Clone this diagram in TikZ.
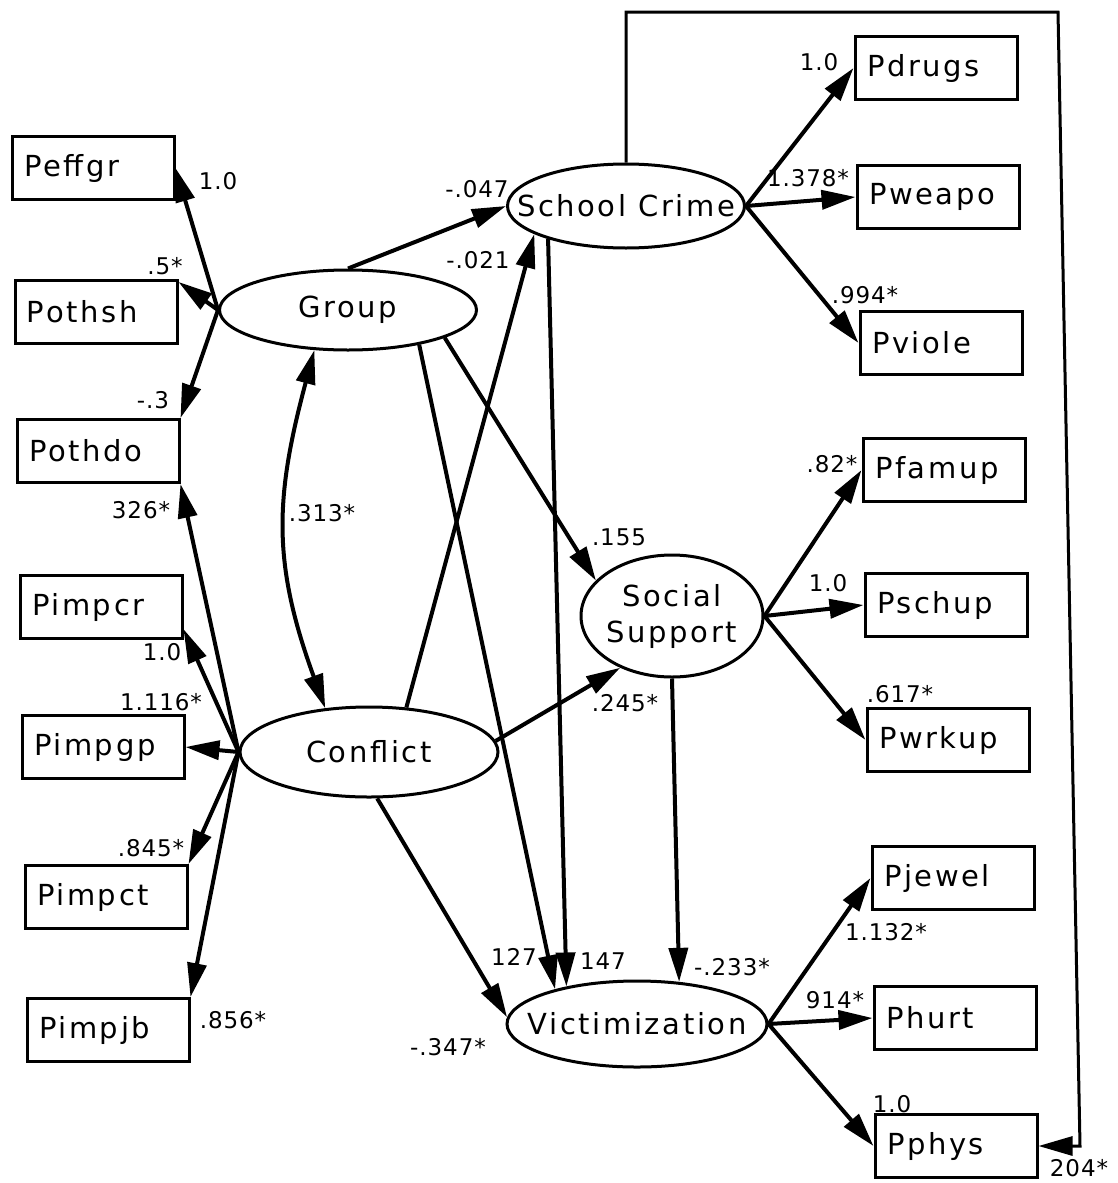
\documentclass[tikz,border=0pt]{standalone}
\usepackage{fontspec}
\setmainfont[LetterSpace=9]{DejaVu Sans}
\usetikzlibrary{arrows.meta,shapes.geometric}
\begin{document}
\begin{tikzpicture}[x=1pt,y=1pt,
    obs/.style={draw, line width=3pt, minimum height=63pt, text width=138pt, inner xsep=12pt, align=left, font=\fontsize{29}{34}\selectfont},
    lat/.style={draw, ellipse, line width=3pt, inner xsep=-70pt, inner ysep=0pt, align=center, font=\fontsize{29}{36}\selectfont},
    arr/.style={line width=4pt, -{Triangle[length=34pt,width=19pt]}},
    lbl/.style={inner sep=0pt, font=\fontsize{23}{26}\selectfont\addfontfeature{LetterSpace=4}}]
    \useasboundingbox (0,0) rectangle (1117,-1183);
    \node[obs] (peffgr) at (93,-168) {Peffgr};
    \node[obs] (pothsh) at (96,-312) {Pothsh};
    \node[obs] (pothdo) at (98,-451) {Pothdo};
    \node[obs] (pimpcr) at (101,-607) {Pimpcr};
    \node[obs] (pimpgp) at (103,-747) {Pimpgp};
    \node[obs] (pimpct) at (106,-897) {Pimpct};
    \node[obs] (pimpjb) at (108,-1030) {Pimpjb};
    \node[obs] (pdrugs) at (936,-68) {Pdrugs};
    \node[obs] (pweapo) at (938,-197) {Pweapo};
    \node[obs] (pviole) at (941,-343) {Pviole};
    \node[obs] (pfamup) at (944,-470) {Pfamup};
    \node[obs] (pschup) at (946,-605) {Pschup};
    \node[obs] (pwrkup) at (948,-740) {Pwrkup};
    \node[obs] (pjewel) at (953,-878) {Pjewel};
    \node[obs] (phurt) at (955,-1018) {Phurt};
    \node[obs] (pphys) at (956,-1146) {Pphys};
    \node[lat, minimum width=257pt, minimum height=80pt] (grp) at (348,-310) {Group};
    \node[lat, minimum width=258pt, minimum height=90pt] (conf) at (369,-752) {Conflict};
    \node[lat, minimum width=237pt, minimum height=84pt] (sch) at (626,-206) {School Crime};
    \node[lat, minimum width=182pt, minimum height=122pt] (ss) at (672,-616) {Social\\Support};
    \node[lat, minimum width=260pt, minimum height=86pt] (vic) at (637,-1024) {Victimization};
    \draw[arr] (grp.west) -- (peffgr.east);
    \draw[arr] (grp.west) -- (pothsh.20);
    \draw[arr] (grp.west) -- (pothdo.north east);
    \draw[arr] (conf.west) -- (pothdo.south east);
    \draw[arr] (conf.west) -- (pimpcr.-15);
    \draw[arr] (conf.west) -- (pimpgp.east);
    \draw[arr] (conf.west) -- (pimpct.north east);
    \draw[arr] (conf.west) -- (pimpjb.north east);
    \draw[arr] (sch.east) -- (pdrugs.west);
    \draw[arr] (sch.east) -- (pweapo.west);
    \draw[arr] (sch.east) -- (pviole.west);
    \draw[arr] (ss.east) -- (pfamup.west);
    \draw[arr] (ss.east) -- (pschup.west);
    \draw[arr] (ss.east) -- (pwrkup.west);
    \draw[arr] (vic.east) -- (pjewel.west);
    \draw[arr] (vic.east) -- (phurt.west);
    \draw[arr] (vic.east) -- (pphys.west);
    \draw[arr] (grp.north) -- (sch.west);
    \draw[arr] (conf.50) -- (sch.197);
    \draw[arr] (grp.-16) -- (ss.155);
    \draw[arr] (grp.-26) -- (vic.157);
    \draw[arr] (sch.203) -- (vic.152);
    \draw[arr] (ss.south) -- (vic.45);
    \draw[arr] (conf.5) -- (ss.225);
    \draw[arr] (conf.-80) -- (vic.177);
    \draw[line width=4pt, {Triangle[length=34pt,width=19pt]}-{Triangle[length=34pt,width=19pt]}] (grp.-130) to[out=-105, in=110, looseness=1.1] (conf.135);
    \coordinate (fbtr) at (1058,-12);
    \coordinate (fbbr) at (1080,-1146);
    \draw[line width=3pt, -{Triangle[length=34pt,width=19pt]}] (sch.north) |- (fbtr) -- (fbbr) -- (pphys.east);
    \node[lbl] (lpeffgr) at (218,-181) {1.0};
    \node[lbl] (lpothsh) at (165,-266) {.5*};
    \node[lbl] (lpothdo) at (153,-400) {-.3};
    \node[lbl] (lpothdob) at (141,-510) {326*};
    \node[lbl] (lpimpcr) at (162,-652) {1.0};
    \node[lbl] (lpimpgp) at (161,-702) {1.116*};
    \node[lbl] (lpimpct) at (151,-848) {.845*};
    \node[lbl] (lpimpjb) at (233,-1020) {.856*};
    \node[lbl] (lgrpsch) at (477,-189) {-.047};
    \node[lbl] (lconfsch) at (478,-260) {-.021};
    \node[lbl] (lgrpss) at (619,-537) {.155};
    \node[lbl] (lconfss) at (625,-703) {.245*};
    \node[lbl] (lcov) at (322,-513) {.313*};
    \node[lbl] (lgrpvic) at (514,-957) {127};
    \node[lbl] (lschvic) at (603,-961) {147};
    \node[lbl] (lssvic) at (732,-967) {-.233*};
    \node[lbl] (lconfvic) at (448,-1047) {-.347*};
    \node[lbl] (lpdrugs) at (819,-62) {1.0};
    \node[lbl] (lpweapo) at (808,-178) {1.378*};
    \node[lbl] (lpviole) at (865,-295) {.994*};
    \node[lbl] (lpfamup) at (832,-464) {.82*};
    \node[lbl] (lpschup) at (828,-583) {1.0};
    \node[lbl] (lpwrkup) at (900,-694) {.617*};
    \node[lbl] (lpjewel) at (886,-932) {1.132*};
    \node[lbl] (lphurt) at (835,-1000) {914*};
    \node[lbl] (lpphys) at (892,-1104) {1.0};
    \node[lbl] (lfb) at (1079,-1168) {204*};
\end{tikzpicture}
\end{document}
